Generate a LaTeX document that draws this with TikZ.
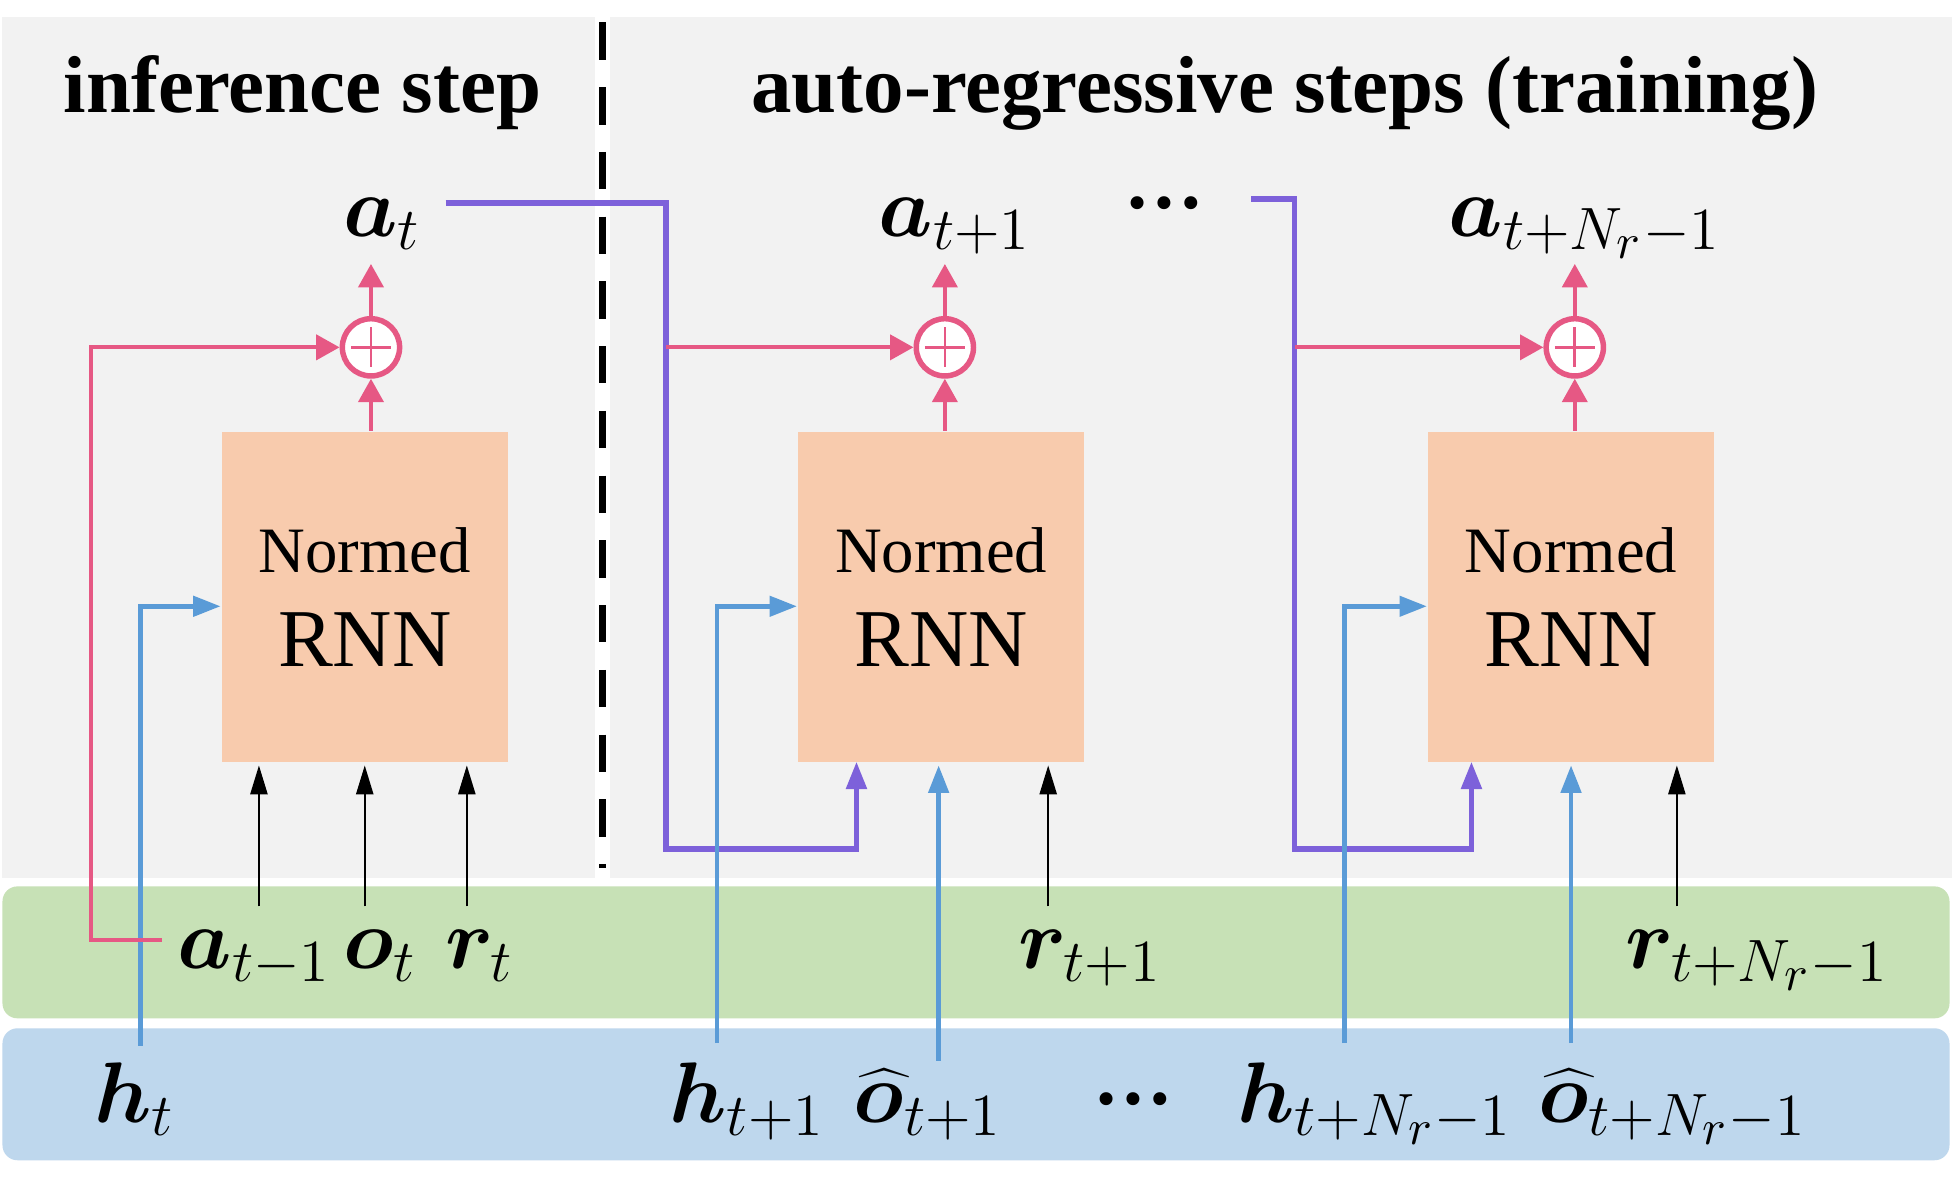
\documentclass[tikz,border=0pt]{standalone}
\usepackage{bm}
\usepackage{fontspec}
\setmainfont{Liberation Serif}
\usetikzlibrary{arrows.meta,calc}
\definecolor{graybg}{RGB}{242,242,242}
\definecolor{peach}{RGB}{248,203,173}
\definecolor{greenbg}{RGB}{199,225,182}
\definecolor{bluebg}{RGB}{190,215,237}
\definecolor{pinkc}{RGB}{230,88,132}
\definecolor{purpc}{RGB}{125,97,218}
\definecolor{bluec}{RGB}{90,155,215}
\begin{document}
\begin{tikzpicture}[x=0.25pt,y=-0.25pt,
  title/.style={font=\fontsize{16.25}{19}\selectfont\bfseries, inner sep=0, anchor=base},
  lbl/.style={font=\LARGE, inner sep=0, anchor=base west},
  dots/.style={font=\fontsize{16}{19}\selectfont\bfseries, inner sep=0},
  rnnbox/.style={fill=peach, minimum width=57.5pt, minimum height=66.25pt, inner sep=0},
  plusc/.style={circle, draw=pinkc, line width=1.1pt, fill=white, minimum size=11.5pt, inner sep=0},
  pinkarr/.style={draw=pinkc, line width=0.85pt, -{Triangle[length=4.7pt,width=5pt]}},
  purparr/.style={draw=purpc, line width=1.1pt, -{Triangle[length=5.5pt,width=4pt]}},
  bluearr/.style={draw=bluec, line width=0.95pt, -{Triangle[length=5.5pt,width=4pt]}},
  blkarr/.style={draw=black, line width=0.5pt, -{Triangle[length=5.8pt,width=3.4pt]}},
  dashline/.style={draw=black, line width=1.25pt, dash pattern=on 7.5pt off 5.5pt},
  crossline/.style={draw=pinkc, line width=0.55pt},
]
\useasboundingbox (0,0) rectangle (1568,945);
% backgrounds
\fill[white] (0,0) rectangle (1568,945);
\fill[graybg] (2,14) rectangle (478,705);
\fill[graybg] (490,14) rectangle (1568,705);
\fill[greenbg, rounded corners=3pt] (2,712) rectangle (1566,818);
\fill[bluebg, rounded corners=3pt] (2,826) rectangle (1566,932);
\draw[dashline] (484,18) -- (484,697);

% titles
\node[title] (ttl1) at (243,90) {inference step};
\node[title] (ttl2) at (1032,90) {auto-regressive steps (training)};

% RNN boxes
\node[rnnbox] (b1) at (293,479.5) {};
\node[rnnbox] (b2) at (756,479.5) {};
\node[rnnbox] (b3) at (1262,479.5) {};
\foreach \b in {b1,b2,b3}{
  \node[font=\fontsize{13}{15}\selectfont, inner sep=0, anchor=base] (\b n) at ($(\b.center)+(0,-19.5)$) {Normed};
  \node[font=\fontsize{16.5}{19}\selectfont, inner sep=0, anchor=base] (\b r) at ($(\b.center)+(0,55.5)$) {RNN};
}

% plus circles
\node[plusc] (c1) at (298,279) {};
\node[plusc] (c2) at (759,279) {};
\node[plusc] (c3) at (1265,279) {};
\foreach \c in {c1,c2,c3}{
  \draw[crossline] ($(\c)+(-16,0)$) -- ($(\c)+(16,0)$) ($(\c)+(0,-16)$) -- ($(\c)+(0,16)$);
}

% output labels
\node[lbl] (at) at (275,190) {$\bm{a}_{t}$};
\node[lbl] (at1) at (705,190) {$\bm{a}_{t+1}$};
\node[lbl] (atn) at (1163,190) {$\bm{a}_{t+N_r-1}$};
\node[dots] (dtop) at (935,163) {…};

% green row labels
\node[lbl] (am1) at (142,778) {$\bm{a}_{t-1}$};
\node[lbl] (ot) at (275,778) {$\bm{o}_{t}$};
\node[lbl] (rt) at (357,778) {$\bm{r}_{t}$};
\node[lbl] (rt1) at (817,778) {$\bm{r}_{t+1}$};
\node[lbl] (rtn) at (1305,778) {$\bm{r}_{t+N_r-1}$};

% blue row labels
\node[lbl] (ht) at (75,902) {$\bm{h}_{t}$};
\node[lbl] (ht1) at (537,902) {$\bm{h}_{t+1}$};
\node[lbl] (ot1) at (685,902) {$\widehat{\bm{o}}_{t+1}$};
\node[dots] (dbot) at (910,883) {…};
\node[lbl] (htn) at (993,902) {$\bm{h}_{t+N_r-1}$};
\node[lbl] (otn) at (1235,902) {$\widehat{\bm{o}}_{t+N_r-1}$};

% coordinates
\coordinate (up1) at (298,212);
\coordinate (up2) at (759,212);
\coordinate (up3) at (1265,212);
\coordinate (fbs) at (130,755);
\coordinate (fbc) at (73,279);
\coordinate (p1s) at (358,163);
\coordinate (p1b) at (535,682);
\coordinate (p2s) at (1005,160);
\coordinate (p2b) at (1040,682);
\coordinate (h1s) at (113,840);
\coordinate (h2s) at (576,838);
\coordinate (o2s) at (754,852);
\coordinate (h3s) at (1080,838);
\coordinate (o3s) at (1262,838);
\coordinate (k1) at (208,728);
\coordinate (k2) at (293,728);
\coordinate (k3) at (375,728);
\coordinate (k4) at (842,728);
\coordinate (k5) at (1347,728);

% purple connectors
\draw[purparr] (p1s) -| (p1b) -| ($(b2.south)+(-68,-1)$);
\draw[purparr] (p2s) -| (p2b) -| ($(b3.south)+(-80,-1)$);

% blue connectors
\draw[bluearr] (h1s) |- ($(b1.west)+(0,7.5)$);
\draw[bluearr] (h2s) |- ($(b2.west)+(0,7.5)$);
\draw[bluearr] (o2s) -- ($(o2s |- b2.south)+(0,2)$);
\draw[bluearr] (h3s) |- ($(b3.west)+(0,7.5)$);
\draw[bluearr] (o3s) -- ($(o3s |- b3.south)+(0,2)$);

% black connectors
\foreach \k/\b in {k1/b1,k2/b1,k3/b1,k4/b2,k5/b3}{
  \draw[blkarr] (\k) -- ($(\k |- \b.south)+(0,2)$);
}

% pink connectors
\draw[pinkarr] (fbs) -| (fbc) -- (c1.west);
\draw[pinkarr] (p1b |- c2.west) -- (c2.west);
\draw[pinkarr] (p2b |- c3.west) -- (c3.west);
\foreach \b/\c/\u in {b1/c1/up1,b2/c2/up2,b3/c3/up3}{
  \draw[pinkarr] (\b.north -| \c) -- (\c.south);
  \draw[pinkarr] (\c.north) -- (\u);
}
\end{tikzpicture}
\end{document}
